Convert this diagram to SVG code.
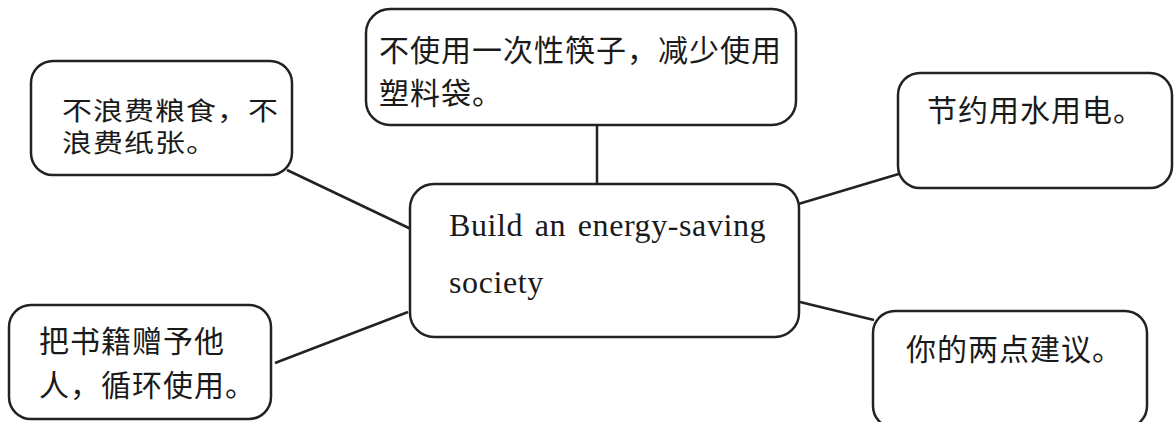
<svg xmlns="http://www.w3.org/2000/svg" width="1174" height="422" viewBox="0 0 1174 422">
<style>
.box{fill:#fff;stroke:#222;stroke-width:2.5}
.cn{font-family:"Noto Sans CJK SC","Noto Sans",sans-serif;font-size:30px;letter-spacing:1px;fill:#1a1a1a}
.en{font-family:"Liberation Serif","Times New Roman",serif;font-size:32px;letter-spacing:0.6px;word-spacing:3px;fill:#1a1a1a}
.ln{stroke:#222;stroke-width:2.5;fill:none}
</style>
<rect width="1174" height="422" fill="#fff"/>
<g id="connectors">
<line class="ln" x1="597" y1="125" x2="597" y2="184"/>
<line class="ln" x1="287" y1="170" x2="413" y2="230"/>
<line class="ln" x1="795" y1="205" x2="902" y2="173"/>
<line class="ln" x1="275" y1="363" x2="408" y2="312"/>
<line class="ln" x1="800" y1="302" x2="874" y2="320"/>
</g>
<g id="center">
<rect class="box" x="410" y="184" width="389" height="153" rx="24"/>
<text class="en" x="449" y="236">Build an energy-saving</text>
<text class="en" x="449" y="293">society</text>
</g>
<g id="top">
<rect class="box" x="366" y="9" width="430" height="116" rx="24"/>
<text class="cn" x="379" y="61" letter-spacing="0.6">不使用一次性筷子，减少使用</text>
<text class="cn" x="379" y="104" letter-spacing="0.6">塑料袋。</text>
</g>
<g id="top-left">
<rect class="box" x="31" y="61" width="261" height="114" rx="22"/>
<text class="cn" transform="matrix(1 0 0 0.85 62 120)" x="0" y="0">不浪费粮食，不</text>
<text class="cn" transform="matrix(1 0 0 0.85 62 152)" x="0" y="0">浪费纸张。</text>
</g>
<g id="top-right">
<rect class="box" x="898" y="73" width="274" height="115" rx="22"/>
<text class="cn" x="927" y="121">节约用水用电。</text>
</g>
<g id="bottom-left">
<rect class="box" x="9" y="305" width="262" height="114" rx="22"/>
<text class="cn" x="39" y="352">把书籍赠予他</text>
<text class="cn" x="39" y="396">人，循环使用。</text>
</g>
<g id="bottom-right">
<rect class="box" x="873" y="311" width="274" height="117" rx="22"/>
<text class="cn" x="906" y="360">你的两点建议。</text>
</g>
</svg>
